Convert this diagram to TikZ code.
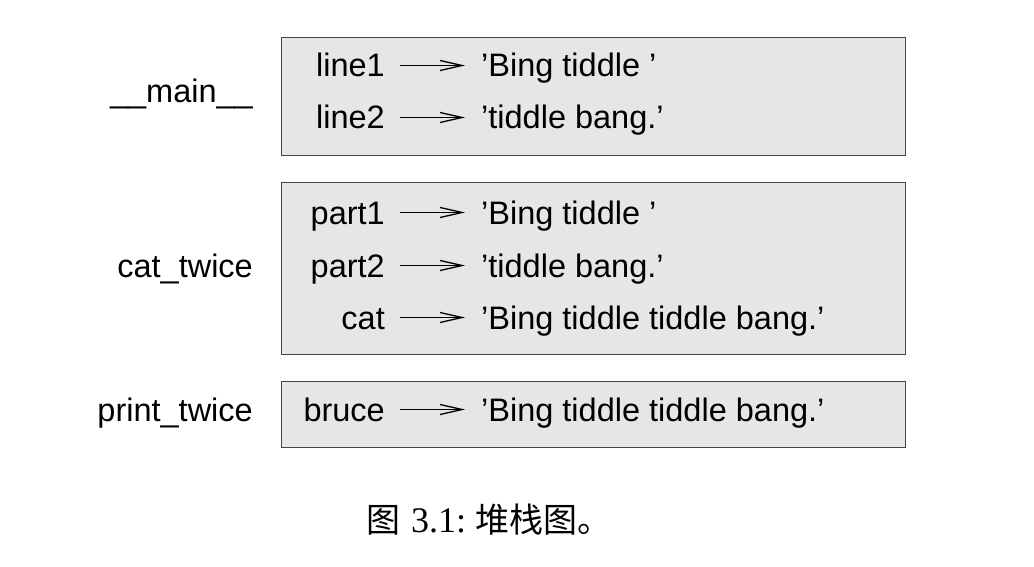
\documentclass[tikz,border=0pt]{standalone}
\usepackage{fontspec}
\newfontfamily\diagfont{Liberation Sans}
\newfontfamily\capserif{Liberation Serif}
\newfontfamily\cjk{Noto Sans CJK SC}
\usetikzlibrary{arrows.meta}
\definecolor{framefill}{RGB}{230,230,230}
\definecolor{frameline}{RGB}{70,70,70}
\tikzset{
  frame/.style={draw=frameline, fill=framefill, line width=1.3pt, inner sep=0pt, anchor=north west, minimum width=624pt},
  txt/.style={inner sep=0pt, font=\diagfont\fontsize{32.5}{39}\selectfont},
  varname/.style={txt, anchor=base east},
  valtext/.style={txt, anchor=base west},
  framename/.style={txt, anchor=base east},
  ptr/.style={line width=1.3pt, -{Straight Barb[length=22pt,width=10pt,line width=1.3pt]}},
  captiontext/.style={inner sep=0pt, anchor=base west, font=\fontsize{34}{40}\selectfont}
}
\begin{document}
\begin{tikzpicture}[x=1pt,y=-1pt]
\useasboundingbox (0,0) rectangle (1034,567);
% frames
\node[frame, minimum height=118pt] (f1) at (281,37) {};
\node[frame, minimum height=172pt] (f2) at (281,182) {};
\node[frame, minimum height=66pt] (f3) at (281,381) {};
% frame names
\node[framename] (n1) at (253,103) {\_\_main\_\_};
\node[framename] (n2) at (253,277) {cat\_twice};
\node[framename] (n3) at (253,421) {print\_twice};
% variables
\node[varname] (v1) at (385,77) {line1};
\node[valtext] (w1) at (481,77) {’Bing tiddle ’};
\node[varname] (v2) at (385,129) {line2};
\node[valtext] (w2) at (481,129) {’tiddle bang.’};
\node[varname] (v3) at (385,224) {part1};
\node[valtext] (w3) at (481,224) {’Bing tiddle ’};
\node[varname] (v4) at (385,277) {part2};
\node[valtext] (w4) at (481,277) {’tiddle bang.’};
\node[varname] (v5) at (385,329) {cat};
\node[valtext] (w5) at (481,329) {’Bing tiddle tiddle bang.’};
\node[varname] (v6) at (385,421) {bruce};
\node[valtext] (w6) at (481,421) {’Bing tiddle tiddle bang.’};
\foreach \i in {1,...,6}{
  \draw[ptr] ([xshift=15pt,yshift=11.5pt]v\i.base east) -- ([xshift=-16pt,yshift=11.5pt]w\i.base west);
}
% caption
\node[captiontext] (c) at (366,532) {{\cjk 图}\hspace{11pt}{\capserif\fontsize{36}{40}\selectfont 3.1:}\hspace{9pt}{\cjk 堆栈图。}};
\end{tikzpicture}
\end{document}
